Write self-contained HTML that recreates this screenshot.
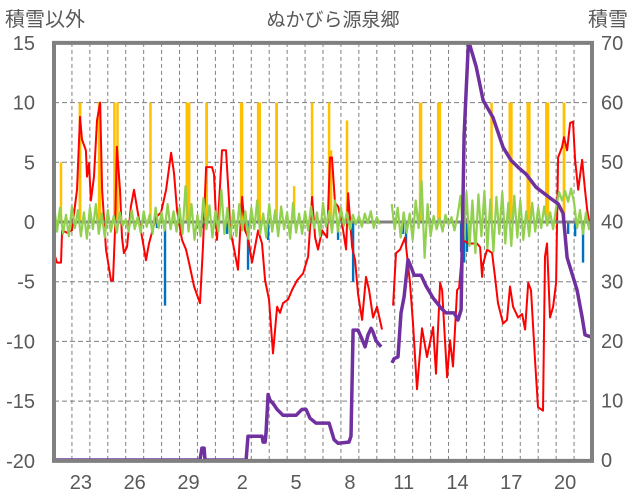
<!DOCTYPE html>
<html><head><meta charset="utf-8"><style>
html,body{margin:0;padding:0;background:#fff;}
svg{display:block;font-family:"Liberation Sans","Noto Sans CJK JP",sans-serif;}
</style></head><body>
<svg id="chart" width="636" height="501" viewBox="0 0 636 501" xmlns="http://www.w3.org/2000/svg">
<text x="5" y="26" font-size="20" fill="#595959">積雪以外</text>
<text x="333" y="26" font-size="19" fill="#595959" text-anchor="middle">ぬかびら源泉郷</text>
<text x="588" y="26" font-size="20" fill="#595959">積雪</text>
<g id="grid"></g><g id="bars"></g><g id="lines"></g><g id="frame"></g><g id="labels"></g>
</svg>
<script>
const leftTicks=[15,10,5,0,-5,-10,-15,-20];
const rightTicks=[70,60,50,40,30,20,10,0];
const dayLabels=["23","26","29","2","5","8","11","14","17","20"];
const dayLabelT=[1.5,4.5,7.5,10.5,13.5,16.5,19.5,22.5,25.5,28.5];
const precipT=[0.39,1.45,2.54,3.37,3.54,5.38,7.47,8.51,10.46,11.43,12.41,13.39,14.39,15.34,15.45,16.34,20.44,21.47,24.40,25.46,26.46,27.50,28.44];
const precipV=[5,10,10,10,10,10,10,10,10,10,10,3,10,10,6,8.5,10,10,10,10,10,10,10];
const precipH=[1.3,2.7,3.3,2,2,2,4.7,2.7,3.3,4,2.7,1.3,1.3,1.3,1.3,1.3,3.3,4,1.3,4,4,4,2.7];
const blueT=[5.74,6.19,8.31,9.65,10.82,11.94,15.84,16.68,19.46,19.63,22.70,22.87,23.03,28.67,29.06,29.50];
const blueV=[-0.5,-7,-0.5,-1,-4,-1.5,-1.5,-5,-1,-1.8,-2.5,-3.4,-2.5,-1,-1.2,-3.4];
const redT=[0,.17,.39,.45,.73,1.00,1.28,1.45,1.56,1.78,1.84,1.95,2.06,2.23,2.40,2.57,2.68,2.90,3.18,3.29,3.40,3.51,3.68,3.79,3.90,4.07,4.29,4.46,4.74,4.91,5.13,5.30,5.69,5.97,6.25,6.53,6.69,6.86,7.14,7.36,7.53,7.81,8.14,8.31,8.48,8.81,8.92,9.09,9.37,9.59,9.76,9.82,9.98,10.26,10.49,10.65,10.82,11.04,11.21,11.38,11.60,11.77,11.99,12.21,12.44,12.60,12.77,13.05,13.27,13.55,13.89,14.17,14.39,14.56,14.72,14.95,15.23,15.39,15.50,15.67,15.84,16.06,16.29,16.40,16.62,16.79,16.95,17.18,17.40,17.57,17.79,18.01,18.29,18.6,18.91,19.07,19.30,19.58,19.85,20.02,20.24,20.52,20.80,21.14,21.30,21.53,21.64,21.92,22.08,22.25,22.48,22.59,22.81,23.09,23.59,23.76,23.87,23.93,24.15,24.43,24.59,24.76,25.04,25.26,25.43,25.60,25.88,26.10,26.27,26.44,26.60,26.83,26.99,27.27,27.38,27.49,27.66,27.83,28.00,28.11,28.33,28.44,28.61,28.78,28.94,29.06,29.23,29.45,29.61,29.73,29.90];
const redV=[-2.6,-3.4,-3.4,-0.7,-0.9,-0.7,2.7,8.8,6.9,6.0,3.8,4.9,1.8,3.8,8.5,10,2.7,-2.3,-4.9,-4.9,-0.7,6.3,2.7,-1.3,-2.6,-2.1,1.3,2.7,0.2,-1.3,-3.2,-1.8,0.4,0.8,2.7,5.8,4.1,1.0,-1.5,-2.3,-3.4,-5.4,-6.8,-2.0,4.6,4.6,4.0,-1.5,6.0,6.0,1.8,-0.7,-1.8,-4.0,2.1,-0.7,-1.3,-3.4,-2.1,-0.7,-1.8,-4.9,-6.5,-11,-7.1,-7.6,-6.8,-6.5,-5.7,-4.9,-4.3,-2.9,2.1,-1.3,-2.3,-0.7,-1.3,5.4,5.4,1.6,1.3,-0.1,-2.3,2.4,-2.1,-3.2,-6.0,-8.2,-4.6,-5.7,-8.0,-7.1,-9.0,null,-7.0,-2.6,-2.3,-1.3,-5.1,-8.5,-14,-8.9,-11.3,-8.8,-12.7,-5.1,-5.7,-13,-9.9,-12.1,-5.7,-5.5,-1.5,-1.8,-1.8,-2.1,-4.6,-3.5,-2.3,-2.6,-4.6,-6.8,-8.5,-8.2,-5.4,-7.1,-8.0,-7.7,-9.0,-5.1,-5.7,-11.8,-15.5,-15.8,-2.9,-1.8,-8.0,-7.1,-5.1,5.4,6.3,7.1,6.0,8.3,8.4,5.2,2.7,5.2,2.7,1.0,-0.4];
const snowT=[0,8.14,8.25,8.37,8.42,10.71,10.82,11.60,11.66,11.77,11.82,11.94,12.05,12.21,12.44,12.77,13.50,13.83,14.05,14.28,14.61,15.34,15.62,15.84,16.45,16.56,16.68,16.95,17.12,17.35,17.51,17.68,17.79,17.96,18.24,18.5,18.85,18.96,19.18,19.35,19.52,19.74,19.91,20.08,20.47,20.75,21.14,21.58,21.86,22.31,22.53,22.70,22.87,23.09,23.15,23.54,23.93,24.48,25.04,25.49,25.93,26.32,26.88,27.61,28.11,28.39,28.61,29.17,29.45,29.61,30];
const snowV=[0,0,2,2,0,0,4,4,3,3,4.5,11,10,9.5,8.5,7.5,7.5,8.5,8.5,7,6.2,6.2,3.4,2.8,3,4,21.8,21.8,20.7,19,21,22.1,21.5,20,19,null,16.3,17,17.3,24.7,27.4,33.6,32.4,31,31,29.2,27.2,25.5,24.7,24.7,23.5,25.2,54.5,69,70,66,60.4,57.5,52.5,50.3,49,48,45.8,44.1,43,41.4,34,28.5,24,21,20.6];
const greenV=[1.5,-0.8,1.2,-1.0,0.6,-1.2,1.3,-0.5,1.0,-1.2,0.8,-1.4,1.2,-0.6,1.5,-1.0,0.7,-1.3,
1.0,-0.8,0.5,-0.9,0.8,-0.3,0.2,-0.8,1.0,-0.6,0.4,-0.9,0.9,-0.4,0.6,-1.0,1.2,-0.5,0.8,-0.7,1.5,-0.6,0.9,-0.8,
1.2,-1.0,3.0,-0.8,1.5,-1.5,0.6,-1.2,2.0,-0.6,1.4,-1.3,0.9,-0.8,2.7,-1.0,1.2,-1.4,
1.0,-1.2,1.5,-0.7,0.9,-1.4,1.2,-0.6,1.8,-1.0,0.7,-1.3,1.5,-0.8,1.0,-1.2,1.3,-0.6,0.8,-1.4,1.6,-0.9,0.7,-1.0,
0.9,-0.7,1.3,-0.5,0.8,-1.2,1.6,-0.4,0.9,-0.9,1.8,-0.8,1.2,-0.3,0.8,-0.6,0.6,-0.2,0.5,-0.4,0.7,-0.1,0.9,-0.5,0.4,-0.2,
null,null,null,
1.5,-0.6,1.2,-1.3,0.8,-0.9,0.7,-1.5,1.8,-0.5,3.4,-3.0,1.5,-1.2,
0.5,-0.6,0.3,-0.8,0.6,-0.2,0.4,-0.7,0.5,
2.2,-1.5,2.5,-2.0,1.8,-2.6,2.3,-1.2,2.6,-2.2,1.9,-2.5,2.1,-1.0,2.5,-1.8,1.6,-2.0,2.2,-1.3,1.8,-1.5,0.9,-1.2,1.6,-0.8,1.2,
-0.5,1.3,-0.3,0.8,-0.6,1.2,
2.5,1.8,2.6,1.7,2.8,1.6,
-0.5,1.0,-1.0,0.8,-0.6,0.3];
const greenStep=1/6;

const X0=54,X1=592,DAYS=30;
function x(t){return X0+t*(X1-X0)/DAYS;}
function yL(v){return 222-v*(418/35);}
function yR(c){return 460-c*(417/70);}
const NS="http://www.w3.org/2000/svg";
function mk(tag,parent,attrs){const e=document.createElementNS(NS,tag);for(const k in attrs)e.setAttribute(k,attrs[k]);parent.appendChild(e);return e;}
const grid=document.getElementById('grid'),bars=document.getElementById('bars'),lines=document.getElementById('lines'),frame=document.getElementById('frame'),labels=document.getElementById('labels');

for(let d=1;d<DAYS;d++){
  const g=mk('line',grid,{x1:x(d),x2:x(d),y1:yL(15),y2:yL(-20),stroke:'#7f7f7f','stroke-width':1,'stroke-dasharray':'4 3'});
  
  
}
leftTicks.forEach(v=>{
  if(v!==0&&v!==15&&v!==-20){
    const g=mk('line',grid,{x1:X0,x2:X1,y1:yL(v),y2:yL(v),stroke:'#7f7f7f','stroke-width':1,'stroke-dasharray':'5 3'});
    
    
  }
  const t=mk('text',labels,{x:35,y:yL(v)+7,'font-size':20,fill:'#595959','text-anchor':'end'});
  t.textContent=v;
  
  
});
rightTicks.forEach(c=>{
  const t=mk('text',labels,{x:601,y:yR(c)+7,'font-size':20,fill:'#595959'});
  t.textContent=c;
  
  
});
dayLabels.forEach((s,i)=>{
  const t=mk('text',labels,{x:x(dayLabelT[i]),y:489,'font-size':20,fill:'#595959','text-anchor':'middle'});
  t.textContent=s;
  
  
});
precipT.forEach((t,i)=>{
  const w=Math.max(2.5,1.4*precipH[i]*(X1-X0)/DAYS/24);
  const r=mk('rect',bars,{x:x(t)-w/2,y:yL(precipV[i]),width:w,height:yL(0)-yL(precipV[i]),fill:'#ffc000'});
  
  
});
blueT.forEach((t,i)=>{
  const r=mk('rect',bars,{x:x(t)-1.2,y:yL(0),width:2.4,height:yL(blueV[i])-yL(0),fill:'#0070c0'});
  
  
});
function pathFrom(ts,vs,fy){let d='',pen=false;for(let i=0;i<ts.length;i++){if(vs[i]===null){pen=false;continue;}d+=(pen?'L':'M')+x(ts[i]).toFixed(1)+','+fy(vs[i]).toFixed(1);pen=true;}return d;}
const red=mk('path',lines,{d:pathFrom(redT,redV,yL),fill:'none',stroke:'#ff0000','stroke-width':2,'stroke-linejoin':'round'});


const zl=mk('line',lines,{x1:X0,x2:X1,y1:yL(0),y2:yL(0),stroke:'#808080','stroke-width':3});


const gT=greenV.map((_,i)=>i*greenStep);
const green=mk('path',lines,{d:pathFrom(gT,greenV,yL),fill:'none',stroke:'#92d050','stroke-width':2.2,'stroke-linejoin':'round'});


const snow=mk('path',lines,{d:pathFrom(snowT,snowV,yR),fill:'none',stroke:'#7030a0','stroke-width':3.5,'stroke-linejoin':'round'});


const fr=mk('path',frame,{d:`M${X0},${yL(-20)}L${X0},${yL(15)}L${X1},${yL(15)}L${X1},${yL(-20)}Z`,fill:'none',stroke:'#808080','stroke-width':4});


</script>
</body></html>
